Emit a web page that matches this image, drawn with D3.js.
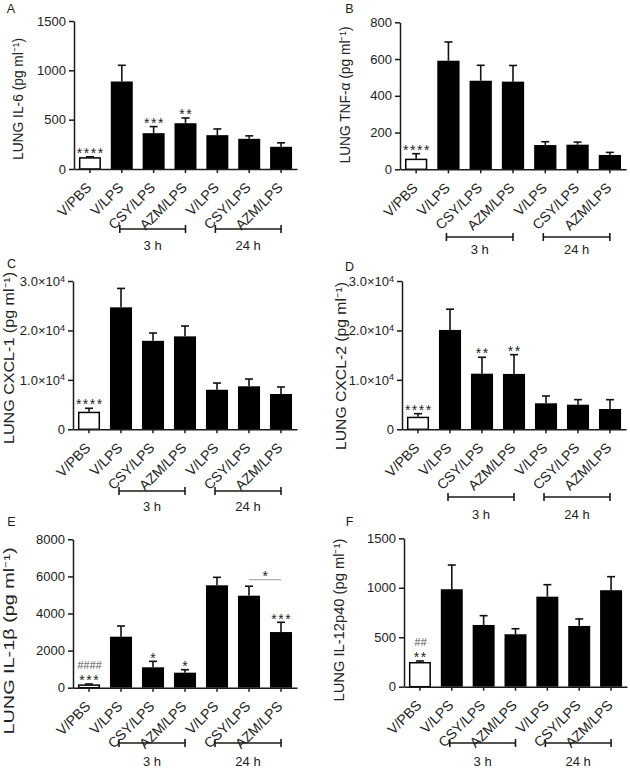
<!DOCTYPE html>
<html><head><meta charset="utf-8">
<script src="https://cdn.jsdelivr.net/npm/d3@7/dist/d3.min.js"></script>
<style>
body{margin:0;background:#fff;}
svg{display:block;font-family:"Liberation Sans",Arial,sans-serif;}
</style></head>
<body><svg id="c" width="630" height="771"></svg>
<script>
// ---------- data ----------
const categories = ["V/PBS","V/LPS","CSY/LPS","AZM/LPS","V/LPS","CSY/LPS","AZM/LPS"];
const groupLabels = ["3 h","24 h"];

const il6Mean  = [120, 887, 363, 464, 343, 306, 225];
const il6Sem   = [4, 164, 67, 53, 63, 30, 40];
const il6Stars = ["****","","***","**","","",""];
const il6Ticks = [0, 500, 1000, 1500];

const tnfMean  = [58, 591, 482, 477, 132, 134, 78];
const tnfSem   = [27, 102, 84, 88, 18, 14, 14];
const tnfStars = ["****","","","","","",""];
const tnfTicks = [0, 200, 400, 600, 800];

const cxcl1Mean  = [3560, 24670, 17900, 18800, 8000, 8700, 7140];
const cxcl1Sem   = [690, 3830, 1580, 2100, 1360, 1470, 1420];
const cxcl1Stars = ["****","","","","","",""];
const cxcl1Ticks = [0, 10000, 20000, 30000];

const cxcl2Mean  = [2550, 20100, 11250, 11200, 5260, 4980, 4110];
const cxcl2Sem   = [610, 4200, 3320, 3900, 1480, 1020, 1880];
const cxcl2Stars = ["****","","**","**","","",""];
const cxcl2Ticks = [0, 10000, 20000, 30000];

const il1bMean  = [180, 2750, 1100, 810, 5520, 4960, 3000];
const il1bSem   = [20, 575, 320, 160, 430, 510, 525];
const il1bStars = ["***","","*","*","","","***"];
const il1bHash  = ["####","","","","","",""];
const il1bTicks = [0, 2000, 4000, 6000, 8000];
const il1bPair  = [5, 6, "*"];

const il12Mean  = [250, 985, 624, 530, 910, 614, 975];
const il12Sem   = [10, 245, 94, 56, 121, 71, 137];
const il12Stars = ["**","","","","","",""];
const il12Hash  = ["##","","","","","",""];
const il12Ticks = [0, 500, 1000, 1500];

// ---------- layout ----------
const panels = [
 {label:"A", title:"LUNG IL-6 (pg ml\u207B\u00B9)", mean:il6Mean, sem:il6Sem, stars:il6Stars, ticks:il6Ticks, sci:false,
  xr:[74,297], yr:[169,21], lab:[11,8.5], tx:18, ty:99, tl:122, brY:229, brL:245},
 {label:"B", title:"LUNG TNF-\u03B1 (pg ml\u207B\u00B9)", mean:tnfMean, sem:tnfSem, stars:tnfStars, ticks:tnfTicks, sci:false,
  xr:[400,626], yr:[169.3,22.3], lab:[349.5,8.5], tx:345, ty:95, tl:137, brY:237, brL:249},
 {label:"C", title:"LUNG CXCL-1 (pg ml\u207B\u00B9)", mean:cxcl1Mean, sem:cxcl1Sem, stars:cxcl1Stars, ticks:cxcl1Ticks, sci:true,
  xr:[73,297], yr:[429.3,281], lab:[11.5,263.5], tx:9, ty:358, tl:172, brY:491, brL:506},
 {label:"D", title:"LUNG CXCL-2 (pg ml\u207B\u00B9)", mean:cxcl2Mean, sem:cxcl2Sem, stars:cxcl2Stars, ticks:cxcl2Ticks, sci:true,
  xr:[402,626], yr:[429.3,281], lab:[349.5,266.5], tx:341, ty:366, tl:168, brY:497, brL:514},
 {label:"E", title:"LUNG IL-1\u03B2 (pg ml\u207B\u00B9)", mean:il1bMean, sem:il1bSem, stars:il1bStars, hash:il1bHash, pair:il1bPair, ticks:il1bTicks, sci:false,
  xr:[73,297], yr:[687.7,539.3], lab:[11.5,522], tx:9, ty:641, tl:187, brY:743, brL:761},
 {label:"F", title:"LUNG IL-12p40 (pg ml\u207B\u00B9)", mean:il12Mean, sem:il12Sem, stars:il12Stars, hash:il12Hash, ticks:il12Ticks, sci:false,
  xr:[404,627], yr:[686.7,538.3], lab:[349.5,522], tx:339, ty:620, tl:163, brY:743, brL:761}
];

const svg = d3.select("#c");
const ink = "#1a1a1a";

panels.forEach(p => {
  const g = svg.append("g");
  const x = d3.scaleBand().domain(d3.range(categories.length)).range(p.xr).paddingInner(0.31).paddingOuter(0.155);
  const yMax = p.ticks[p.ticks.length-1];
  const y = d3.scaleLinear().domain([0, yMax]).range(p.yr);
  const cx = i => x(i) + x.bandwidth()/2;

  // panel letter
  g.append("text").attr("x", p.lab[0]).attr("y", p.lab[1]).attr("dy","0.35em")
    .attr("text-anchor","middle").attr("font-size",12.5).attr("fill",ink).text(p.label);

  // y title
  g.append("text").attr("transform", `translate(${p.tx},${p.ty}) rotate(-90)`)
    .attr("text-anchor","middle").attr("dy","0.35em").attr("font-size",14).attr("fill","#222")
    .attr("textLength", p.tl).attr("lengthAdjust","spacingAndGlyphs").text(p.title);

  // bars
  g.selectAll("rect.bar").data(p.mean).join("rect").attr("class","bar")
    .attr("x",(d,i)=> i===0 ? x(i)+0.75 : x(i))
    .attr("width",(d,i)=> i===0 ? x.bandwidth()-1.5 : x.bandwidth())
    .attr("y",(d,i)=> i===0 ? y(d)+0.75 : y(d))
    .attr("height",(d,i)=> i===0 ? y(0)-y(d)-0.75 : y(0)-y(d))
    .attr("fill",(d,i)=> i===0 ? "#fff" : "#000")
    .attr("stroke",(d,i)=> i===0 ? "#000" : "none")
    .attr("stroke-width",1.5);

  // error bars (upper only)
  p.mean.forEach((m,i)=>{
    const top = y(m + p.sem[i]);
    g.append("line").attr("x1",cx(i)).attr("x2",cx(i)).attr("y1",y(m)).attr("y2",top)
      .attr("stroke","#111").attr("stroke-width",1.6);
    g.append("line").attr("x1",cx(i)-4).attr("x2",cx(i)+4).attr("y1",top).attr("y2",top)
      .attr("stroke","#111").attr("stroke-width",1.6);
  });

  // significance stars, with optional hash line above
  p.stars.forEach((s,i)=>{
    if(!s) return;
    const top = y(p.mean[i] + p.sem[i]);
    const c = top - 7;
    g.append("text").attr("x",cx(i)+0.8).attr("y",c+8.2).attr("text-anchor","middle").attr("fill","#222")
      .attr("font-size",14).attr("letter-spacing",1.5).text(s);
    if(p.hash && p.hash[i]){
      g.append("text").attr("x",cx(i)+0.5).attr("y",c-11.5+4).attr("text-anchor","middle")
        .attr("font-size",11).attr("font-style","italic").attr("fill","#555").text(p.hash[i]);
    }
  });

  // pairwise comparison line
  if(p.pair){
    const [a,b,s] = p.pair;
    const ly = y(p.mean[a] + p.sem[a]) - 6.5;
    g.append("line").attr("x1",cx(a)).attr("x2",cx(b)).attr("y1",ly).attr("y2",ly)
      .attr("stroke","#999").attr("stroke-width",1);
    g.append("text").attr("x",(cx(a)+cx(b))/2+0.3).attr("y",ly-7+8.2).attr("text-anchor","middle")
      .attr("font-size",14).attr("fill","#222").text(s);
  }

  // y axis
  const ya = g.append("g").attr("transform",`translate(${p.xr[0]},0)`)
    .call(d3.axisLeft(y).tickValues(p.ticks).tickSize(5).tickSizeOuter(0).tickPadding(3)
      .tickFormat(p.sci ? (()=>"") : d3.format("d")));
  if(p.sci){
    ya.selectAll(".tick text").each(function(v){
      const t = d3.select(this);
      if(v===0){ t.text("0"); return; }
      t.text((v/10000).toFixed(1) + "\u00D710");
      t.append("tspan").attr("dy","-0.45em").attr("font-size","0.7em").text("4");
    });
  }
  ya.selectAll(".tick text").attr("font-size",13).attr("fill","#222").attr("font-family",null);
  ya.select(".domain").attr("stroke",ink).attr("stroke-width",1.5);
  ya.selectAll(".tick line").attr("stroke",ink).attr("stroke-width",1.5);

  // x axis
  const xa = g.append("g").attr("transform",`translate(0,${y(0)})`)
    .call(d3.axisBottom(x).tickSize(4).tickSizeOuter(0).tickFormat(i=>categories[i]));
  xa.select(".domain").attr("stroke",ink).attr("stroke-width",1.5);
  xa.selectAll(".tick line").attr("stroke",ink).attr("stroke-width",1.5);
  xa.selectAll(".tick text").attr("x",0).attr("y",0).attr("dy","0.35em")
    .attr("transform","translate(-1,16) rotate(-45)")
    .attr("text-anchor","end").attr("font-size",14).attr("fill","#222").attr("font-family",null);

  // group brackets
  [[1,3],[4,6]].forEach((r,k)=>{
    const x1 = cx(r[0])-2, x2 = cx(r[1]);
    g.append("line").attr("x1",x1).attr("x2",x2).attr("y1",p.brY).attr("y2",p.brY).attr("stroke",ink).attr("stroke-width",1.6);
    [x1,x2].forEach(xx=> g.append("line").attr("x1",xx).attr("x2",xx).attr("y1",p.brY-4).attr("y2",p.brY+4).attr("stroke",ink).attr("stroke-width",1.6));
    g.append("text").attr("x",(x1+x2)/2).attr("y",p.brL).attr("dy","0.35em").attr("text-anchor","middle")
      .attr("font-size",13).attr("fill","#222").text(groupLabels[k]);
  });
});
</script>
</body></html>
